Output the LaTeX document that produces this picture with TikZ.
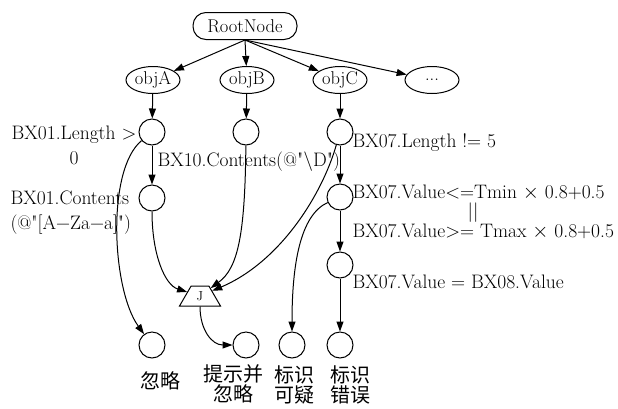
\documentclass[tikz,border=0pt]{standalone}
\usepackage{fontspec}
\usetikzlibrary{shapes.geometric,arrows.meta}
\newfontfamily\cjk{Noto Sans CJK SC}
\newfontfamily\lmr{Latin Modern Roman}

\begin{document}
\begin{tikzpicture}[x=1pt,y=-1pt,line width=1pt,
  rootbox/.style={draw,rounded corners=13pt,minimum width=104pt,minimum height=27pt,inner sep=0pt,font=\fontsize{18.5}{20}\selectfont},
  objell/.style={draw,ellipse,minimum width=54pt,minimum height=27pt,inner sep=0pt,font=\fontsize{18.5}{20}\selectfont},
  cnode/.style={draw,circle,minimum size=26pt,inner sep=0pt},
  joinbox/.style={draw,trapezium,trapezium left angle=65,trapezium right angle=65,trapezium stretches=true,minimum width=41pt,minimum height=20pt,inner sep=0pt,font=\fontsize{13}{14}\selectfont},
  lab/.style={inner sep=0pt,font=\lmr\fontsize{19.5}{25}\selectfont},
  cjklab/.style={inner sep=0pt,align=center,font=\cjk\fontsize{20}{20.5}\selectfont},
  edge/.style={-{Triangle[length=10pt,width=7pt]}}]
\useasboundingbox (0,0) rectangle (618,408);
% top level
\node[rootbox] (root) at (245,26) {RootNode};
\node[objell] (objA) at (153,80) {objA};
\node[objell] (objB) at (247,80) {objB};
\node[objell] (objC) at (340,80) {objC};
\node[objell] (more) at (432,80) {...};
\foreach \t in {objA,objB,objC,more}{\draw[edge] (root.south) -- (\t);}
% checks
\node[cnode] (a1) at (152,132) {};
\node[cnode] (b1) at (246,132) {};
\node[cnode] (c1) at (340,132) {};
\node[cnode] (a2) at (152,198) {};
\node[cnode] (c2) at (340,197) {};
\node[cnode] (c3) at (340,265) {};
\node[joinbox] (jn) at (200,296) {J};
% results
\node[cnode] (ign) at (152,345) {};
\node[cnode] (hint) at (246,345) {};
\node[cnode] (susp) at (292,345) {};
\node[cnode] (err) at (340,345) {};
\node[cjklab] (ignlab) at (160,381) {忽略};
\node[cjklab] (hintlab) at (233,384) {提示并\\忽略};
\node[cjklab] (susplab) at (294,385) {标识\\可疑};
\node[cjklab] (errlab) at (350,385) {标识\\错误};
% conditions
\node[lab,align=center] (lenA) at (74,145) {BX01.Length >\\0};
\node[lab,align=left,anchor=west] (contA) at (10,213) {BX01.Contents\\(@"[A−Za−a]")};
\node[lab,anchor=west] (contB) at (157,162) {BX10.Contents(@"\textbackslash D")};
\node[lab,anchor=west] (lenC) at (352,143) {BX07.Length != 5};
\node[lab,anchor=west] (valC1) at (352,193) {BX07.Value<=Tmin $\times$ 0.8+0.5};
\node[lab] (orC) at (473,213) {||};
\node[lab,anchor=west] (valC2) at (352,232) {BX07.Value>= Tmax $\times$ 0.8+0.5};
\node[lab,anchor=west] (eqC) at (352,282) {BX07.Value = BX08.Value};
% edges
\draw[edge] (objA) -- (a1);
\draw[edge] (objB) -- (b1);
\draw[edge] (objC) -- (c1);
\draw[edge] (a1) -- (a2);
\draw[edge] (c1) -- (c2);
\draw[edge] (c2) -- (c3);
\draw[edge] (c3) -- (err);
\draw[edge] (a1) .. controls (106,170) and (112,290) .. (ign);
\draw[edge] (a2) .. controls (152,255) and (165,285) .. (jn);
\draw[edge] (b1) .. controls (245,235) and (238,268) .. (jn);
\draw[edge] (c1) .. controls (322,195) and (280,262) .. (jn);
\draw[edge] (c2) .. controls (300,215) and (292,265) .. (susp);
\draw[edge] (jn.south) .. controls (200,330) and (212,345) .. (hint);
\end{tikzpicture}
\end{document}
